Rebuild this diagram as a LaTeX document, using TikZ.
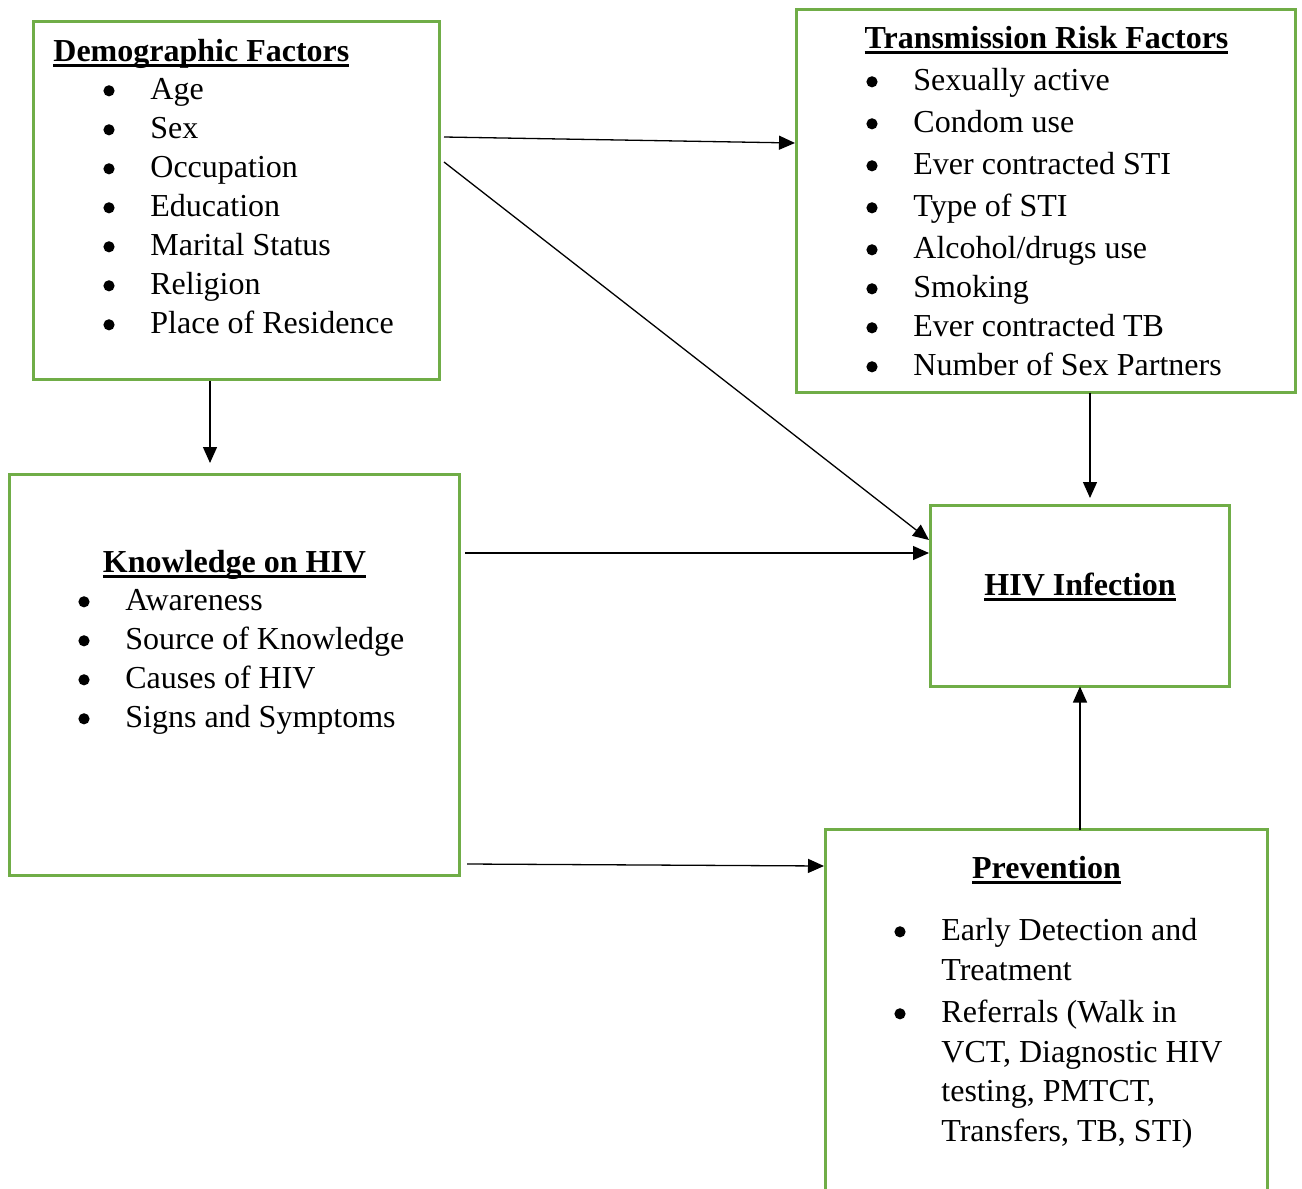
\documentclass[tikz,border=0pt]{standalone}
\usepackage{fontspec}
\setmainfont{Liberation Serif}
\usetikzlibrary{arrows.meta,calc}
\definecolor{frame}{HTML}{70AD47}
\newlength{\ulw}
\newcommand{\hd}[1]{\settowidth{\ulw}{\bfseries #1}\rlap{\rule[-3.1pt]{\ulw}{1.5pt}}\textbf{#1}}
\newcommand{\bul}{\makebox[23.5pt][l]{\tikz[baseline=0pt]\fill (2.9pt,4.1pt) circle (2.8pt);}}
\tikzset{
  box/.style={draw=frame,line width=1.5pt,outer sep=0pt,inner sep=0pt,anchor=north west},
  txt/.style={anchor=base west,inner sep=0pt,font=\fontsize{16}{19}\selectfont},
  ttl/.style={txt,anchor=base},
  ar/.style={-{Triangle[length=8pt,width=7pt]},line width=0.65pt},
}
\begin{document}
\begin{tikzpicture}[x=0.5pt,y=-0.5pt]
\useasboundingbox (0,0) rectangle (1302,1189);
\clip (0,0) rectangle (1302,1189);
% boxes
\node[box,minimum width=203pt,minimum height=179pt] (demo) at (33.5,21.5) {};
\node[box,minimum width=249.5pt,minimum height=191.5pt] (trans) at (796.5,9.5) {};
\node[box,minimum width=225pt,minimum height=200.5pt] (know) at (9.5,474.5) {};
\node[box,minimum width=149.5pt,minimum height=90.5pt] (hiv) at (930.5,505.5) {};
\node[box,minimum width=221pt,minimum height=200pt] (prev) at (825.5,829.5) {};
% demographic factors
\node[txt] (demot) at (53,61) {\hd{Demographic Factors}};
\foreach \t [count=\i from 0] in {Age,Sex,Occupation,Education,Marital Status,Religion,Place of Residence}
  \node[txt] (demo\i) at (103,{99+39*\i}) {\bul\t};
% transmission risk factors
\node[ttl] (transt) at (1046.5,48) {\hd{Transmission Risk Factors}};
\foreach \y/\t [count=\i] in {90/Sexually active,132/Condom use,174/Ever contracted STI,216/Type of STI,258/{Alcohol/drugs use},297/Smoking,336/Ever contracted TB,375/Number of Sex Partners}
  \node[txt] (trans\i) at (866,\y) {\bul\t};
% knowledge
\node[ttl] (knowt) at (234.5,572) {\hd{Knowledge on HIV}};
\foreach \t [count=\i from 0] in {Awareness,Source of Knowledge,Causes of HIV,Signs and Symptoms}
  \node[txt] (know\i) at (78,{610+39*\i}) {\bul\t};
% hiv infection
\node[ttl] (hivt) at (1080,595) {\hd{HIV Infection}};
% prevention
\node[ttl] (prevt) at (1046.5,878) {\hd{Prevention}};
\node[txt] (prev1) at (894,940) {\bul Early Detection and};
\node[txt] (prev1b) at (941,980) {Treatment};
\node[txt] (prev2) at (894,1022) {\bul Referrals (Walk in};
\node[txt] (prev2b) at (941,1062) {VCT, Diagnostic HIV};
\node[txt] (prev2c) at (941,1101) {testing, PMTCT,};
\node[txt] (prev2d) at (941,1141) {Transfers, TB, STI)};
% connectors
\draw[ar] ($(demo.north east)+(4.5,115.5)$) -- ($(trans.north west)+(-1.5,133.5)$);
\draw[ar] ($(demo.north east)+(4.5,140.5)$) -- ($(hiv.north west)+(-1.5,34.5)$);
\draw[ar] ($(demo.south)+(-26.5,1.5)$) -- ($(know.north west)+(200.5,-11.5)$);
\draw[ar] ($(trans.south west)+(293.5,0)$) -- ($(hiv.north west)+(159.5,-7.5)$);
\draw[ar] ($(know.north east)+(5.5,78.5)$) -- ($(hiv.north west)+(-1.5,47.5)$);
\draw[ar] ($(know.north east)+(7.5,389.5)$) -- ($(prev.north west)+(-1.5,36.5)$);
\draw[ar] ($(prev.north west)+(254.5,0)$) -- ($(hiv.south west)+(149.5,0)$);
\end{tikzpicture}
\end{document}
